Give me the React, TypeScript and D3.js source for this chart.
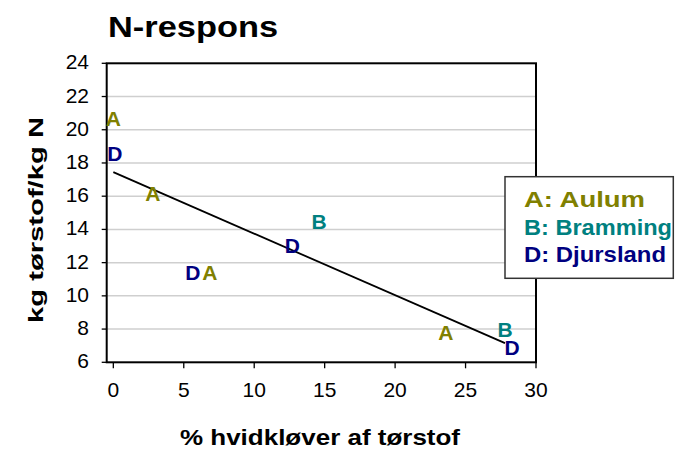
import React from "react";
import * as d3 from "d3";

const W = 675;
const H = 451;

// Data points: letter markers per site
const siteCodes = ["A", "A", "A", "A", "B", "B", "D", "D", "D", "D"];
const cloverPct = [0, 2.8, 6.85, 23.6, 14.6, 27.8, 0.1, 5.65, 12.7, 28.3];
const nResponse = [20.65, 16.15, 11.4, 7.8, 14.45, 7.95, 18.55, 11.4, 13.05, 6.9];

// Trend line endpoints
const trendX = [0, 27.8];
const trendY = [17.45, 7.15];

const xTicks = [0, 5, 10, 15, 20, 25, 30];
const yTicks = [6, 8, 10, 12, 14, 16, 18, 20, 22, 24];

const legendCodes = ["A", "B", "D"];
const legendNames = ["Aulum", "Bramming", "Djursland"];
const legendLengths = [121, 148, 142];
const siteColors: Record<string, string> = { A: "#808000", B: "#008080", D: "#000080" };

export default function App() {
  const left = 106.7, right = 536, top = 63.3, bottom = 362.3;
  const x = d3.scaleLinear().domain([-0.47, 30]).range([left, right]);
  const y = d3.scaleLinear().domain([6, 24]).range([bottom, top]);
  const line = d3
    .line<number>()
    .x((d, i) => x(trendX[i]))
    .y((d) => y(d));

  const font = "'Liberation Sans', Arial, sans-serif";

  return (
    <svg width={W} height={H} style={{ position: "absolute", left: 0, top: 0 }} fontFamily={font}>
      <rect x={0} y={0} width={W} height={H} fill="#fff" />
      <text x={108} y={37.3} fontSize={30} fontWeight="bold" textLength={170} lengthAdjust="spacingAndGlyphs">
        N-respons
      </text>
      {/* gridlines */}
      {yTicks.slice(1, -1).map((t) => (
        <line key={t} x1={left} x2={right} y1={y(t)} y2={y(t)} stroke="#cfcfcf" strokeWidth={1.5} />
      ))}
      {/* y ticks */}
      {yTicks.map((t) => (
        <g key={"y" + t}>
          <line x1={left - 5} x2={left} y1={y(t)} y2={y(t)} stroke="#000" strokeWidth={1.3} />
          <text x={89} y={y(t) + 6} fontSize={21} textAnchor="end">
            {t}
          </text>
        </g>
      ))}
      {/* x ticks */}
      {xTicks.map((t) => (
        <g key={"x" + t}>
          <line x1={x(t)} x2={x(t)} y1={bottom} y2={bottom + 6} stroke="#000" strokeWidth={1.3} />
          <text x={x(t)} y={397} fontSize={21} textAnchor="middle">
            {t}
          </text>
        </g>
      ))}
      {/* frame */}
      <rect x={left} y={top} width={right - left} height={bottom - top} fill="none" stroke="#000" strokeWidth={2} />
      {/* trend line */}
      <path d={line(trendY) || ""} fill="none" stroke="#000" strokeWidth={1.8} />
      {/* markers */}
      {siteCodes.map((c, i) => (
        <text
          key={"m" + i}
          x={x(cloverPct[i])}
          y={y(nResponse[i]) + 7.5}
          fontSize={21}
          fontWeight="bold"
          textAnchor="middle"
          fill={siteColors[c]}
        >
          {c}
        </text>
      ))}
      {/* axis titles */}
      <text x={180} y={445} fontSize={22} fontWeight="bold" textLength={280} lengthAdjust="spacingAndGlyphs">
        % hvidkløver af tørstof
      </text>
      <text
        transform="translate(43,220) rotate(-90)"
        x={0}
        y={0}
        fontSize={21}
        fontWeight="bold"
        textAnchor="middle"
        textLength={206}
        lengthAdjust="spacingAndGlyphs"
      >
        kg tørstof/kg N
      </text>
      {/* legend */}
      <rect x={505} y={176.7} width={168.3} height={101.6} fill="#fff" stroke="#333" strokeWidth={1.5} />
      {legendCodes.map((c, i) => (
        <text
          key={"l" + c}
          x={524}
          y={207.3 + i * 27.2}
          fontSize={22}
          fontWeight="bold"
          fill={siteColors[c]}
          textLength={legendLengths[i]}
          lengthAdjust="spacingAndGlyphs"
        >
          {c + ": " + legendNames[i]}
        </text>
      ))}
    </svg>
  );
}
